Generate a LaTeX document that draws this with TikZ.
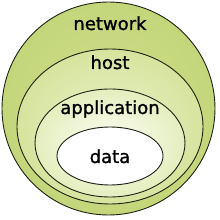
\documentclass[tikz,border=0pt]{standalone}
\usepackage{fontspec}
\setmainfont[FakeBold=1.3,AutoFakeBold=1.3]{DejaVu Sans}
\definecolor{netc}{RGB}{196,214,122}
\definecolor{netin}{RGB}{206,222,140}
\definecolor{hostc}{RGB}{214,228,158}
\definecolor{hostin}{RGB}{232,241,200}
\definecolor{appc}{RGB}{228,238,190}
\definecolor{appin}{RGB}{252,253,245}
\definecolor{edge}{RGB}{30,34,20}
\begin{document}
\begin{tikzpicture}[x=1pt,y=1pt,
  ring/.style={draw=edge,line width=0.9pt},
  lbl/.style={font=\fontsize{18}{20}\selectfont\bfseries,anchor=base,inner sep=0pt,text=black}]
\useasboundingbox (0,0) rectangle (220,220);
\shade[ring,inner color=netin,outer color=netc] (108.5,111.5) circle (106.5);
\shade[ring,inner color=hostin,outer color=hostc] (110,93.5) ellipse (93 and 77.5);
\shade[ring,inner color=appin,outer color=appc] (110,77) ellipse (75 and 54);
\fill[white] (110,64) ellipse (53 and 29);
\draw[ring] (110,64) ellipse (53 and 29);
\node[lbl] (net) at (110,190) {network};
\node[lbl] (host) at (110,151) {host};
\node[lbl] (app) at (110,106) {application};
\node[lbl] (data) at (110,57) {data};
\end{tikzpicture}
\end{document}
